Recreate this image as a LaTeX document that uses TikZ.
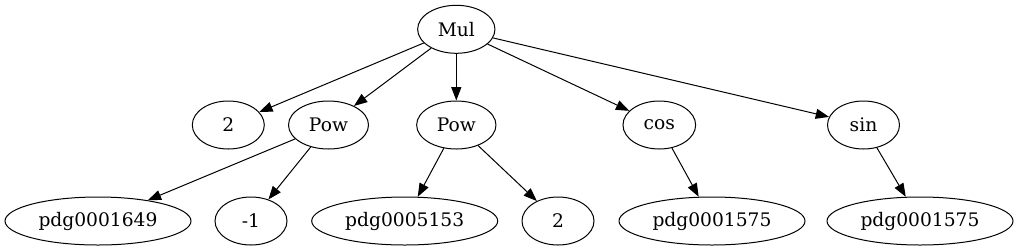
\documentclass[tikz,border=0pt]{standalone}
\usepackage{fontspec}
\setmainfont{DejaVu Serif}
\usetikzlibrary{shapes.geometric,arrows.meta}
\begin{document}
\begin{tikzpicture}[x=0.75pt,y=-0.75pt,
  gnode/.style={draw,ellipse,line width=0.75pt,inner sep=0pt,minimum height=36pt,font=\fontsize{14}{16}\selectfont},
  edge/.style={draw,line width=0.75pt,-{Triangle[length=10pt,width=7.5pt]}}]
\useasboundingbox (0,0) rectangle (1019,251);
\node[gnode,minimum width=58pt] (mul) at (456.3,29.3) {Mul};
\node[gnode,minimum width=54pt] (two) at (228.3,125) {2};
\node[gnode,minimum width=60pt] (powa) at (328.5,125) {Pow};
\node[gnode,minimum width=59.5pt] (powb) at (456.3,125) {Pow};
\node[gnode,minimum width=54.5pt] (cos) at (659.3,125) {cos};
\node[gnode,minimum width=54pt] (sin) at (863.5,125) {sin};
\node[gnode,minimum width=139.5pt] (pa) at (98,221) {pdg0001649};
\node[gnode,minimum width=54pt] (mone) at (251,221) {-1};
\node[gnode,minimum width=139.5pt] (pb) at (404.7,221) {pdg0005153};
\node[gnode,minimum width=54pt] (twob) at (558,221) {2};
\node[gnode,minimum width=139.5pt] (pc) at (712,221) {pdg0001575};
\node[gnode,minimum width=139.5pt] (pd) at (920,221) {pdg0001575};
\draw[edge] (mul) -- (two);
\draw[edge] (mul) -- (powa);
\draw[edge] (mul) -- (powb);
\draw[edge] (mul) -- (cos);
\draw[edge] (mul) -- (sin);
\draw[edge] (powa) -- (pa);
\draw[edge] (powa) -- (mone);
\draw[edge] (powb) -- (pb);
\draw[edge] (powb) -- (twob);
\draw[edge] (cos) -- (pc);
\draw[edge] (sin) -- (pd);
\end{tikzpicture}
\end{document}
